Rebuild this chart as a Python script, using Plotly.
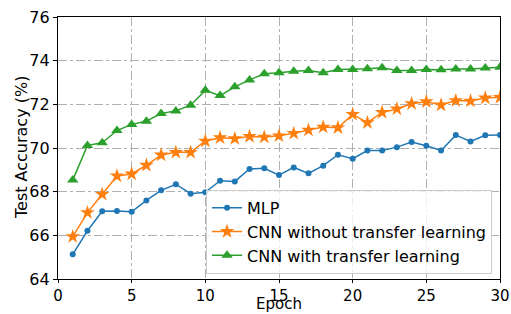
import plotly.graph_objects as go

epochs = list(range(1, 31))
mlp = [65.13, 66.21, 67.10, 67.11, 67.08, 67.60, 68.06, 68.34, 67.91, 67.97,
       68.50, 68.47, 69.04, 69.07, 68.76, 69.11, 68.84, 69.19, 69.69, 69.51,
       69.88, 69.88, 70.04, 70.27, 70.10, 69.89, 70.59, 70.30, 70.58, 70.59]
cnn_no_tl = [65.94, 67.04, 67.88, 68.72, 68.81, 69.21, 69.68, 69.80, 69.80, 70.32,
             70.47, 70.43, 70.53, 70.50, 70.56, 70.67, 70.82, 70.96, 70.93, 71.54,
             71.16, 71.63, 71.79, 72.03, 72.12, 71.97, 72.17, 72.15, 72.29, 72.32]
cnn_tl = [68.53, 70.12, 70.24, 70.80, 71.08, 71.23, 71.58, 71.70, 71.96, 72.64,
          72.40, 72.80, 73.12, 73.40, 73.45, 73.52, 73.55, 73.45, 73.60, 73.60,
          73.63, 73.68, 73.55, 73.55, 73.60, 73.58, 73.62, 73.62, 73.66, 73.70]

names = ["MLP", "CNN without transfer learning", "CNN with transfer learning"]
colors = ["#1f77b4", "#ff7f0e", "#2ca02c"]
symbols = ["circle", "star", "triangle-up"]
sizes = [6, 11, 10]
series = [mlp, cnn_no_tl, cnn_tl]
x_title = "Epoch"
y_title = "Test Accuracy (%)"

fig = go.Figure()
for name, ys, c, s, sz in zip(names, series, colors, symbols, sizes):
    fig.add_trace(go.Scatter(x=epochs, y=ys, mode="lines+markers", name=name,
                             line=dict(color=c, width=1.5),
                             marker=dict(symbol=s, size=sz, color=c)))

axis_common = dict(showline=True, linecolor="black", linewidth=1.2, mirror=True,
                   ticks="outside", tickcolor="black",
                   showgrid=True, gridcolor="#b0b0b0", griddash="dashdot", gridwidth=1,
                   zeroline=False, automargin=False)

fig.update_layout(
    width=511, height=314,
    margin=dict(l=58, r=11, t=17, b=35),
    paper_bgcolor="white", plot_bgcolor="white",
    font=dict(family="DejaVu Sans", size=16, color="black"),
    xaxis=dict(range=[0, 30], dtick=5, tick0=0, ticklen=3,
               tickfont=dict(size=15, color="black"), **axis_common),
    yaxis=dict(range=[64, 76], dtick=2, tick0=64, ticklen=4,
               tickfont=dict(size=16, color="black"), **axis_common),
    legend=dict(x=0.982, y=0.02, xanchor="right", yanchor="bottom",
                bgcolor="rgba(255,255,255,0.8)", bordercolor="#cccccc", borderwidth=1,
                font=dict(size=16), tracegroupgap=0, itemwidth=30),
    showlegend=True,
    annotations=[
        dict(text=x_title, xref="paper", yref="paper", x=0.5, y=-0.1336,
             xanchor="center", yanchor="bottom", showarrow=False, font=dict(size=15),
             borderpad=0),
        dict(text=y_title, xref="paper", yref="paper", x=-0.0837, y=0.5,
             xanchor="center", yanchor="middle", textangle=-90, showarrow=False,
             font=dict(size=16)),
    ],
)

fig.write_html("out.html", config={"displayModeBar": False},
               post_script="document.body.style.margin='0';")
